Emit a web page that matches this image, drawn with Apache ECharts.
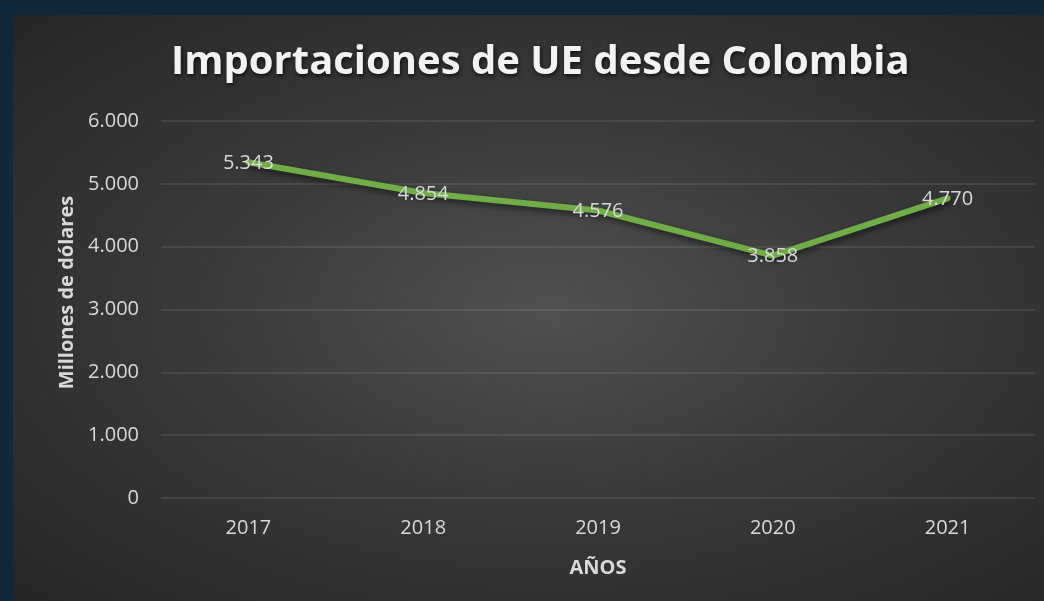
<!DOCTYPE html>
<html lang="es">
<head>
    <meta charset="utf-8">
    <title>Importaciones de UE desde Colombia</title>
    <style type="text/css">
        html, body { margin: 0; padding: 0; width: 1044px; height: 601px; background: #10283a; overflow: hidden; }
        .page { position: absolute; left: 13px; top: 15px; width: 1031px; height: 586px;
                background: radial-gradient(ellipse farthest-corner at 52% 50%, #515151 0%, #3a3a3a 45%, #262626 100%); }
    </style>
</head>
<body>

<div id="page" class="page"></div>

<script src="https://cdn.jsdelivr.net/npm/echarts@6/dist/echarts.min.js"></script>
<script>
    var years = ['2017', '2018', '2019', '2020', '2021'];
    var imports = [5343, 4854, 4576, 3858, 4770];
    var yTicks = [0, 1000, 2000, 3000, 4000, 5000, 6000];

    (function () {
        var textColor = '#d9d9d9';
        var font = '"Open Sans", "Noto Sans", sans-serif';

        // 千位用点号分隔
        function fmt(v) {
            return String(v).replace(/\B(?=(\d{3})+(?!\d))/g, '.');
        }

        var myChart = echarts.init(document.getElementById('page'), null, {renderer: 'canvas'});

        var option = {
            backgroundColor: 'transparent',
            animation: false,
            title: {
                text: 'Importaciones de UE desde Colombia',
                left: 158,
                top: 28,
                padding: 0,
                textStyle: {
                    color: '#f2f2f2',
                    fontFamily: font,
                    fontWeight: 'bold',
                    fontSize: 40,
                    textShadowColor: 'rgba(0,0,0,0.7)',
                    textShadowBlur: 4,
                    textShadowOffsetX: 1,
                    textShadowOffsetY: 2
                }
            },
            grid: {
                left: 148,
                right: 9,
                top: 106,
                bottom: 103,
                containLabel: false
            },
            xAxis: {
                type: 'category',
                data: years,
                name: 'AÑOS',
                nameLocation: 'middle',
                nameGap: 60,
                nameTextStyle: {color: textColor, fontFamily: font, fontWeight: 'bold', fontSize: 20},
                axisLine: {show: false},
                axisTick: {show: false},
                axisLabel: {color: textColor, fontFamily: font, fontSize: 20, margin: 20}
            },
            yAxis: {
                type: 'value',
                min: yTicks[0],
                max: yTicks[yTicks.length - 1],
                interval: yTicks[1] - yTicks[0],
                name: 'Millones de dólares',
                nameLocation: 'middle',
                nameGap: 84,
                nameTextStyle: {
                    color: textColor, fontFamily: font, fontWeight: 'bold', fontSize: 20,
                    padding: [0, 0, 0, 34]
                },
                axisLine: {show: false},
                axisTick: {show: false},
                axisLabel: {
                    color: textColor, fontFamily: font, fontSize: 20, margin: 22,
                    formatter: function (v) { return fmt(v); }
                },
                splitLine: {lineStyle: {color: 'rgba(217,217,217,0.15)', width: 1.5}}
            },
            series: [{
                type: 'line',
                data: imports,
                symbol: 'circle',
                symbolSize: 0,
                showSymbol: true,
                lineStyle: {
                    color: '#70ad47',
                    width: 6,
                    cap: 'round',
                    join: 'round',
                    shadowColor: 'rgba(0,0,0,0.55)',
                    shadowBlur: 6,
                    shadowOffsetX: 2,
                    shadowOffsetY: 3
                },
                itemStyle: {color: '#70ad47'},
                label: {
                    show: true,
                    position: 'inside',
                    offset: [0, 1],
                    color: textColor,
                    fontFamily: font,
                    fontSize: 20,
                    formatter: function (p) { return fmt(p.value); }
                }
            }]
        };
        myChart.setOption(option);
    })();
</script>
</body>
</html>
